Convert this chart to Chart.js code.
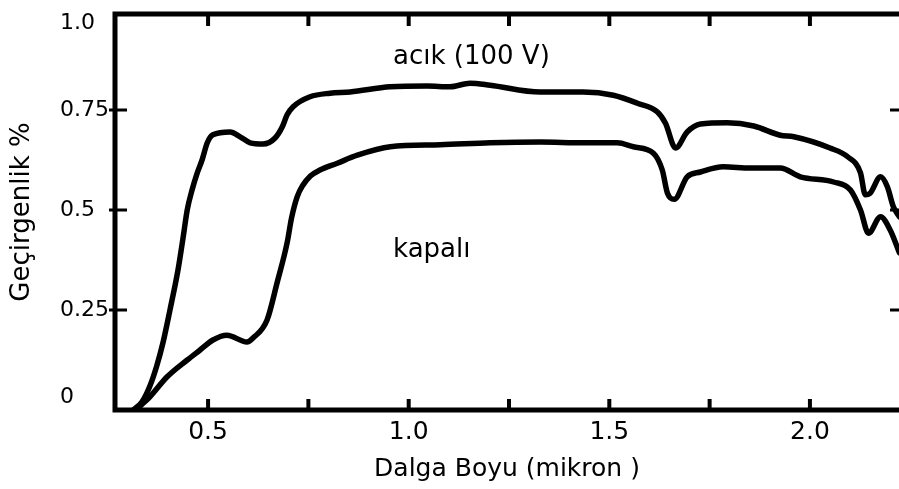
<!DOCTYPE html>
<html>
<head>
<meta charset="utf-8">
<script src="https://cdn.jsdelivr.net/npm/chart.js@4/dist/chart.umd.min.js"></script>
<style>
  body { margin: 0; background: #fff; }
  canvas { display: block; }
</style>
</head>
<body>
<canvas id="chart" width="899" height="489"></canvas>
<script>
// acık (100 V) curve - wavelength (micron) and transmittance
const acikX = [0.313, 0.335, 0.355, 0.372, 0.388, 0.405, 0.425, 0.438, 0.448, 0.46, 0.473, 0.485, 0.498, 0.512, 0.555, 0.58, 0.605, 0.637, 0.667, 0.685, 0.697, 0.712, 0.754, 0.804, 0.854, 0.954, 1.046, 1.103, 1.153, 1.203, 1.328, 1.435, 1.51, 1.57, 1.62, 1.64, 1.665, 1.694, 1.727, 1.794, 1.86, 1.926, 1.96, 2.05, 2.094, 2.126, 2.138, 2.15, 2.176, 2.193, 2.208, 2.223];
const acikY = [0.0, 0.02, 0.06, 0.11, 0.17, 0.25, 0.35, 0.433, 0.5, 0.55, 0.593, 0.625, 0.668, 0.688, 0.695, 0.683, 0.668, 0.665, 0.68, 0.708, 0.738, 0.758, 0.783, 0.792, 0.795, 0.808, 0.81, 0.808, 0.817, 0.812, 0.795, 0.795, 0.787, 0.767, 0.745, 0.717, 0.655, 0.695, 0.715, 0.718, 0.71, 0.687, 0.683, 0.655, 0.633, 0.593, 0.538, 0.542, 0.583, 0.558, 0.508, 0.483];

// kapalı curve
const kapaliX = [0.32, 0.338, 0.355, 0.398, 0.448, 0.48, 0.512, 0.547, 0.597, 0.612, 0.647, 0.672, 0.697, 0.708, 0.722, 0.735, 0.755, 0.779, 0.822, 0.872, 0.954, 1.079, 1.203, 1.328, 1.435, 1.52, 1.56, 1.61, 1.632, 1.645, 1.662, 1.694, 1.727, 1.784, 1.852, 1.926, 1.976, 2.059, 2.101, 2.126, 2.146, 2.176, 2.2, 2.223];
const kapaliY = [0.0, 0.017, 0.033, 0.083, 0.125, 0.15, 0.175, 0.187, 0.17, 0.18, 0.225, 0.318, 0.418, 0.48, 0.533, 0.56, 0.585, 0.6, 0.617, 0.637, 0.658, 0.663, 0.668, 0.67, 0.668, 0.668, 0.658, 0.642, 0.6, 0.542, 0.527, 0.583, 0.595, 0.608, 0.605, 0.605, 0.583, 0.57, 0.55, 0.5, 0.442, 0.483, 0.45, 0.393];

// axes
const xTickValues = [0.5, 1.0, 1.5, 2.0];
const xTickLabels = ['0.5', '1.0', '1.5', '2.0'];
const xMarkValues = [0.5, 0.75, 1.0, 1.25, 1.5, 1.75, 2.0];
const yTickValues = [0, 0.25, 0.5, 0.75, 1.0];
const yTickLabels = ['0', '0.25', '0.5', '0.75', '1.0'];
const yMarkValues = [0.25, 0.5, 0.75];

const FONT = 'DejaVu Sans';

function toPoints(xs, ys) {
    return xs.map((x, i) => ({ x: x, y: ys[i] }));
}

// frame + inward tick marks + curve labels
const framePlugin = {
    id: 'frame',
    afterDatasetsDraw(chart) {
        const ctx = chart.ctx;
        const a = chart.chartArea;
        const xs = chart.scales.x;
        const ys = chart.scales.y;
        ctx.save();
        ctx.strokeStyle = '#000';
        ctx.lineCap = 'butt';

        // tick marks
        ctx.lineWidth = 4;
        xMarkValues.forEach(v => {
            const px = xs.getPixelForValue(v);
            ctx.beginPath();
            ctx.moveTo(px, a.top); ctx.lineTo(px, a.top + 12);
            ctx.moveTo(px, a.bottom); ctx.lineTo(px, a.bottom - 11);
            ctx.stroke();
        });
        ctx.lineWidth = 3;
        yMarkValues.forEach(v => {
            const py = ys.getPixelForValue(v);
            ctx.beginPath();
            ctx.moveTo(a.left - 6, py); ctx.lineTo(a.left + 12, py);
            ctx.moveTo(a.right, py); ctx.lineTo(a.right - 9, py);
            ctx.stroke();
        });

        // frame (no right edge, it is cut off)
        ctx.lineWidth = 5;
        ctx.beginPath();
        ctx.moveTo(a.right + 5, a.top);
        ctx.lineTo(a.left, a.top);
        ctx.lineTo(a.left, a.bottom);
        ctx.lineTo(a.right + 5, a.bottom);
        ctx.stroke();

        // curve labels
        ctx.fillStyle = '#000';
        ctx.font = '26px "' + FONT + '"';
        ctx.textAlign = 'left';
        ctx.textBaseline = 'middle';
        ctx.fillText('acık (100 V)', xs.getPixelForValue(0.961), ys.getPixelForValue(0.8825));
        ctx.fillText('kapalı', xs.getPixelForValue(0.961), ys.getPixelForValue(0.40));
        ctx.restore();
    }
};

const lineStyle = {
    borderColor: '#000',
    borderWidth: 5.5,
    pointRadius: 0,
    showLine: true,
    fill: false,
    cubicInterpolationMode: 'monotone',
    borderJoinStyle: 'round',
    borderCapStyle: 'round'
};

new Chart(document.getElementById('chart'), {
    type: 'scatter',
    data: {
        datasets: [
            Object.assign({ label: 'acık (100 V)', data: toPoints(acikX, acikY) }, lineStyle),
            Object.assign({ label: 'kapalı', data: toPoints(kapaliX, kapaliY) }, lineStyle)
        ]
    },
    options: {
        responsive: false,
        animation: false,
        devicePixelRatio: 1,
        layout: { padding: { left: 0, top: 14, right: 0, bottom: 0 } },
        plugins: {
            legend: { display: false },
            tooltip: { enabled: false }
        },
        scales: {
            x: {
                type: 'linear',
                min: 0.268,
                max: 2.222,
                grid: { display: false, drawTicks: false },
                border: { display: false },
                afterBuildTicks: s => { s.ticks = xTickValues.map(v => ({ value: v })); },
                afterFit: s => { s.height = 79; s.paddingLeft = 0; s.paddingRight = 0; },
                ticks: {
                    padding: 7,
                    color: '#000',
                    font: { family: FONT, size: 25 },
                    callback: (v, i) => xTickLabels[i]
                },
                title: {
                    display: true,
                    text: 'Dalga Boyu (mikron )',
                    color: '#000',
                    font: { family: FONT, size: 25 },
                    padding: { top: 0, bottom: 5 }
                }
            },
            y: {
                type: 'linear',
                min: 0,
                max: 0.99,
                weight: 0,
                grid: { display: false, drawTicks: false },
                border: { display: false },
                afterBuildTicks: s => { s.ticks = yTickValues.map(v => ({ value: v })); },
                afterFit: s => { s.width = 55; s.paddingTop = 0; s.paddingBottom = 0; },
                ticks: {
                    crossAlign: 'far',
                    color: '#000',
                    font: { family: FONT, size: 22 },
                    callback: (v, i) => {
                        if (i === 0) return [yTickLabels[i], ''];
                        if (i === yTickLabels.length - 1) return ['', yTickLabels[i]];
                        return yTickLabels[i];
                    }
                }
            },
            yTitle: {
                type: 'linear',
                position: 'left',
                weight: 1,
                grid: { display: false, drawTicks: false },
                border: { display: false },
                ticks: { display: false },
                afterFit: s => { s.width = 60; s.paddingTop = 0; s.paddingBottom = 0; },
                title: {
                    display: true,
                    text: 'Geçirgenlik %',
                    color: '#000',
                    font: { family: FONT, size: 26 },
                    padding: { top: 7, bottom: 0 }
                }
            }
        }
    },
    plugins: [framePlugin]
});
</script>
</body>
</html>
